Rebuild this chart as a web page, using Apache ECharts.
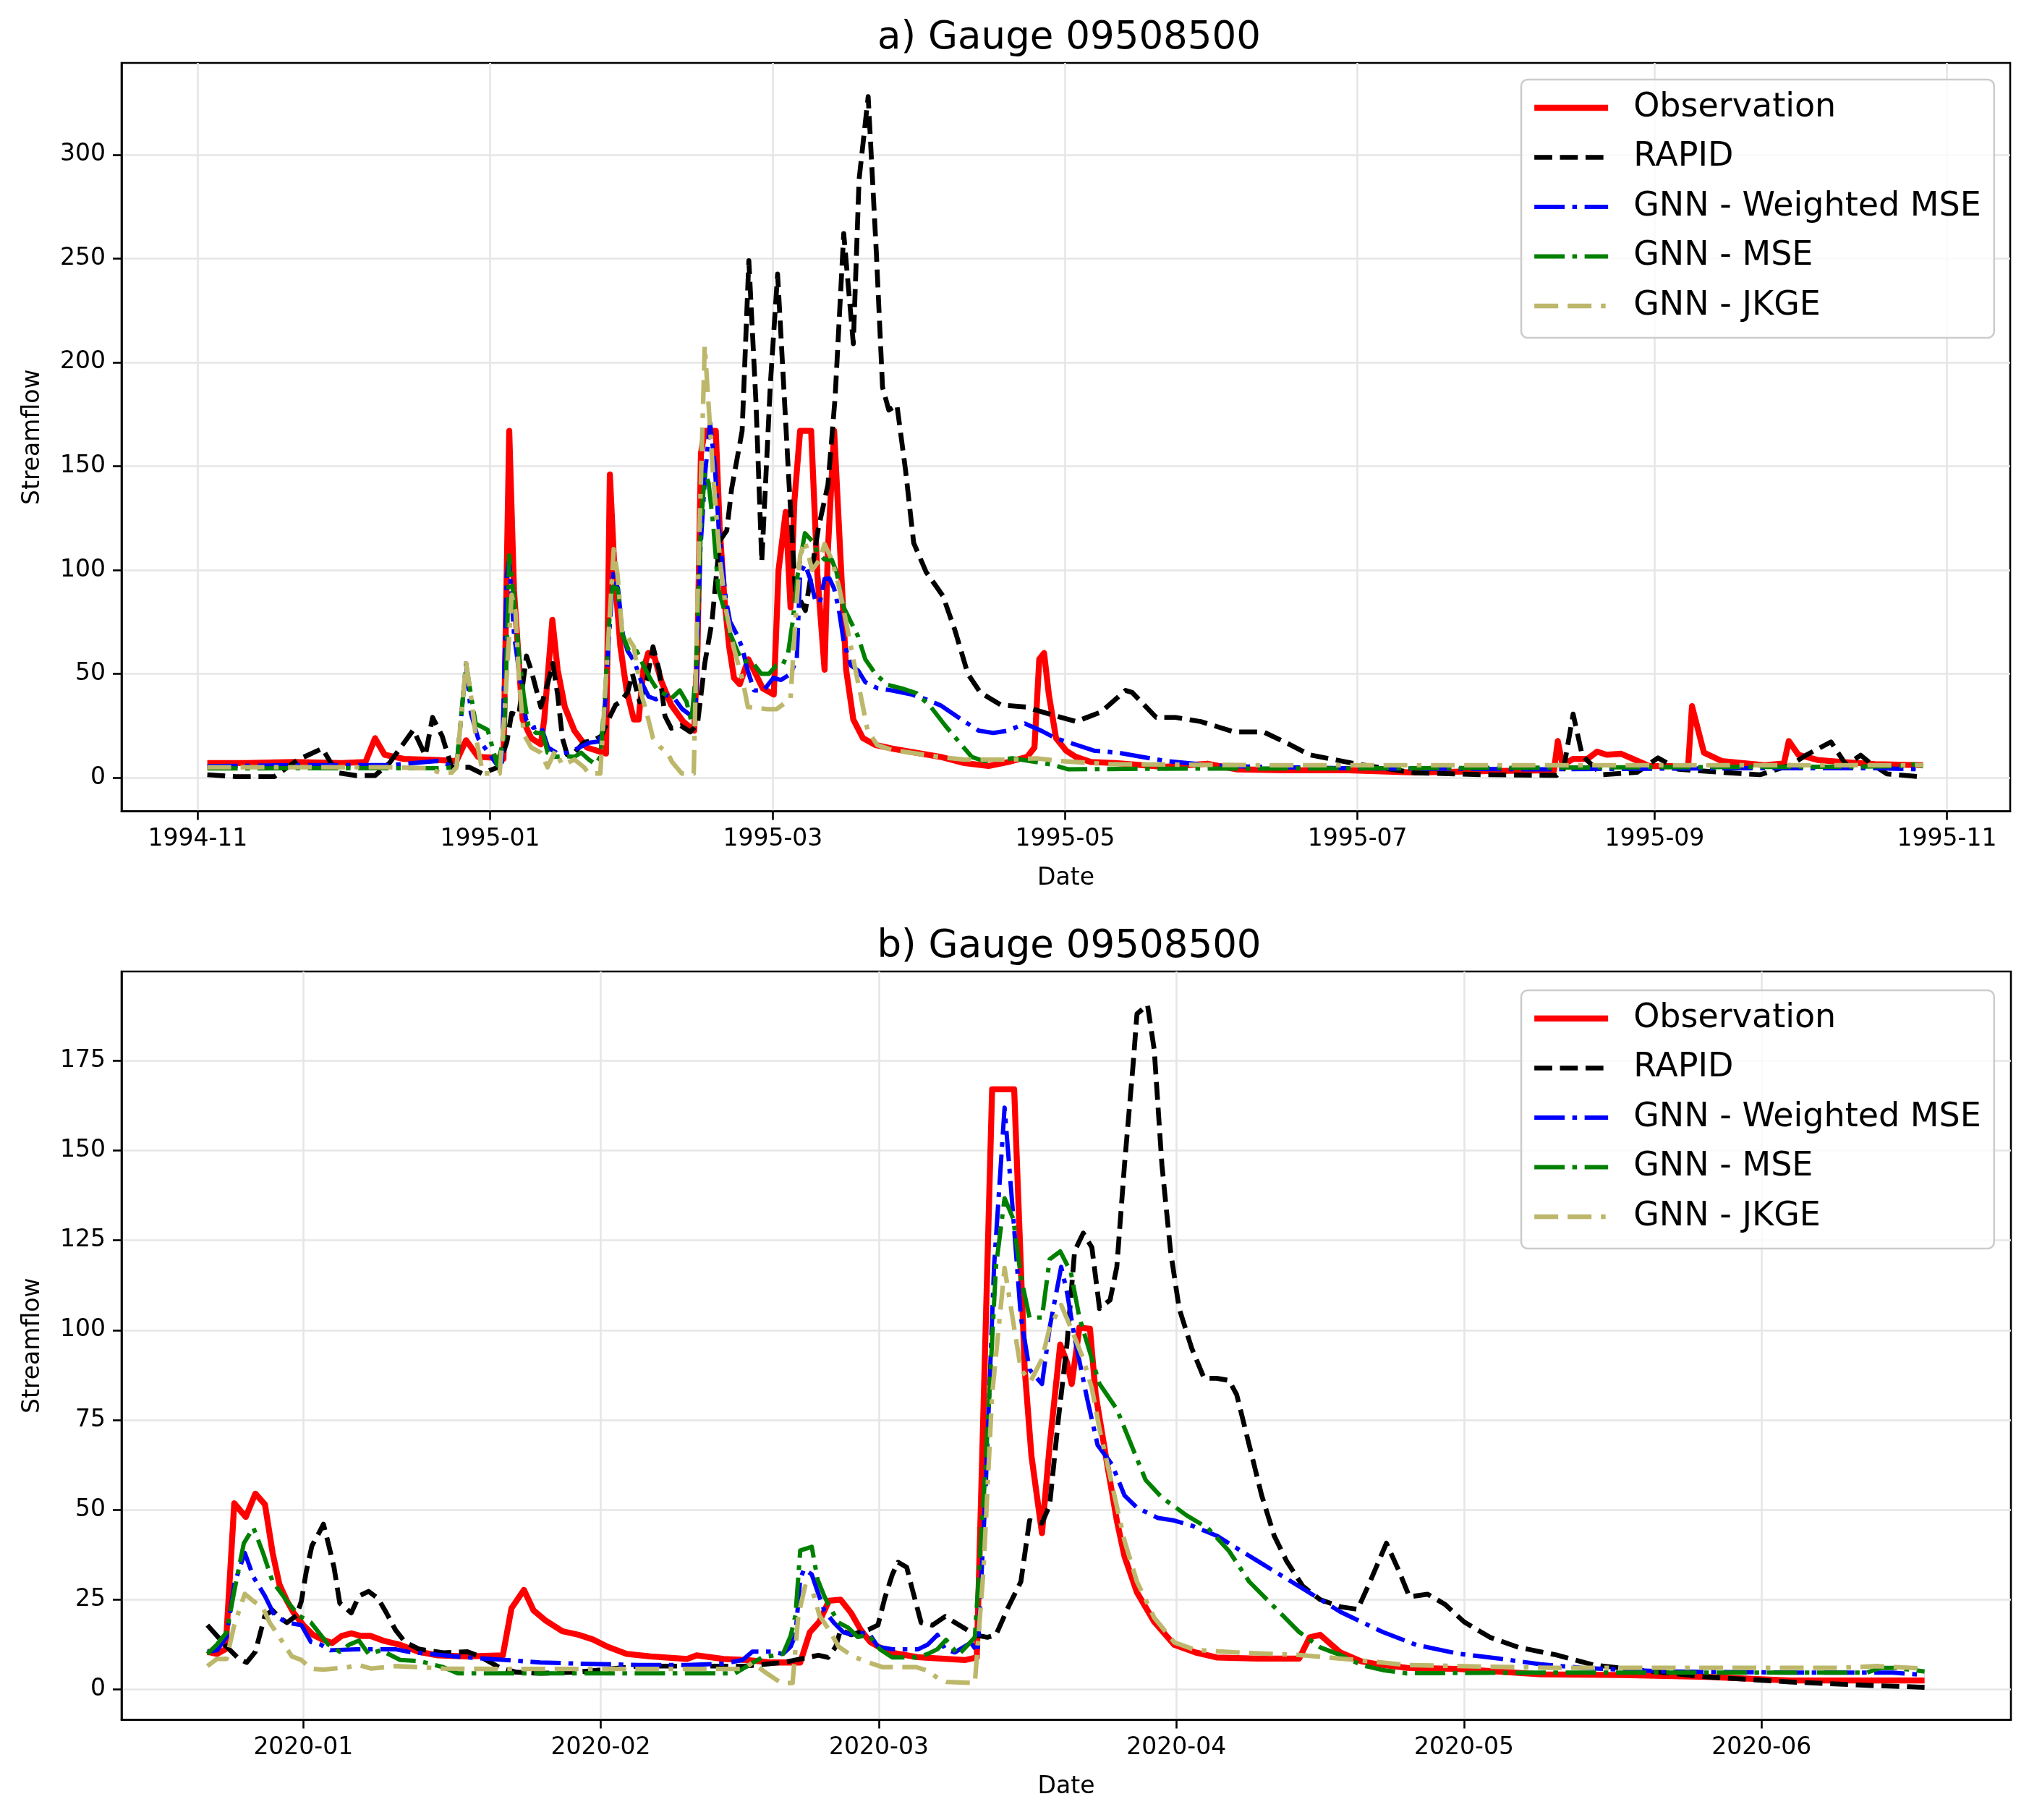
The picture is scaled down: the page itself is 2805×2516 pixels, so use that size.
<!DOCTYPE html>
<html>
<head>
<meta charset="utf-8">
<title>Gauge 09508500</title>
<script src="https://cdn.jsdelivr.net/npm/echarts@6.0.0/dist/echarts.min.js"></script>
<style>
  html, body { margin: 0; padding: 0; background: #ffffff; }
  #chart { width: 2805px; height: 2516px; }
</style>
</head>
<body>
<div id="chart"></div>
<script>
// panel a: days counted from 1994-11-01, panel b: days counted from 2020-01-01
const baseA = Date.UTC(1994, 10, 1)
const baseB = Date.UTC(2020, 0, 1)

const seriesNames = ['Observation', 'RAPID', 'GNN - Weighted MSE', 'GNN - MSE', 'GNN - JKGE']

// ---- a) 1994-11 .. 1995-11 ----
const obsA = [[2,7],[10,7],[20,7.5],[30,7],[35,7.5],[37,19],[39,11],[43,9],[50,8.5],[54,8],[56,18],[58.5,10],[62.5,9.5],[63.8,9],[65,167],[66,90],[66.8,63],[67.8,28],[69.6,19],[71.6,16],[72.3,28],[74,76],[75.1,52],[76.6,34],[78.6,22.6],[81.2,14.5],[85.2,11.6],[86,146],[87,98],[88.2,63],[89.5,42],[91,28],[92,28],[93,52],[94,60],[95.3,58],[96.8,46],[98.8,35],[101.3,27],[103.6,22.6],[104.3,63],[105,156],[105.8,167],[108.1,167],[108.9,121],[109.9,86],[110.9,63],[111.9,48],[113.1,45],[114.9,57],[116.4,50],[117.9,43],[120.2,40],[121.2,100],[122.7,128],[123.7,82],[124.5,133],[125.7,167],[128,167],[129.3,98],[130.8,52],[131.5,110],[132.8,167],[134.3,98],[135.3,52],[136.8,28],[138.8,19],[141.4,15.7],[144.9,14],[149.9,12],[155,10],[160,7],[165,5.6],[169.1,7.5],[173.1,10],[174.6,14.5],[175.6,57],[176.6,60],[177.6,40],[179.1,19],[181.2,13],[183.2,10],[186.4,7.5],[191.5,7],[201.6,5.2],[210.7,6.7],[216.7,4],[226.8,3.5],[240,3.5],[254,2.5],[270,3.2],[283,3.5],[283.8,17.6],[284.8,6],[287,9],[290,9],[292,12.5],[294,11],[297,11.5],[300,8.5],[303,5.5],[311,5.5],[311.8,34.4],[314.3,12],[318,8],[327,6],[331,6.8],[332,17.6],[334,11],[338,8.5],[343,7.5],[350,6.5],[360,6]]
const rapidA = [[2,1.4],[8,0.5],[16,0.5],[21,8.7],[26,14],[29,2.4],[33,1],[37,1],[40,7],[45,23],[47.5,10.6],[49,29],[51,20],[53,5],[56.7,5],[59.3,2],[62.7,5],[64.5,17],[65.5,31],[67,30],[68.6,58.6],[69.6,51.6],[71.6,34],[73.1,46],[74.1,55],[75.1,40],[76.1,19],[77.1,11],[78.6,12],[80.6,17],[82.7,18],[84.2,20],[85.7,28],[87.2,35],[88.2,36.5],[89.7,41],[90.7,50],[92.2,36.5],[93.7,47],[95,63],[96.3,51.6],[97.5,29.6],[98.8,23.8],[100.8,25],[102.8,22],[104.3,26],[105.8,55],[107.3,75],[108.9,114],[110.4,119],[111.4,139],[113.6,167],[115,249],[116.5,180],[117.7,104],[119.5,190],[121,242.5],[123.4,141],[124.7,90],[126.8,80.5],[129.5,120],[131.5,141],[133,183],[134.8,262],[136.8,209],[138,288],[139.9,328],[141.6,253],[142.9,188],[144.2,177],[145.9,179.5],[147.7,148],[149.4,113],[152,99],[155.5,87.5],[158,71],[160.7,50],[163.3,41],[167.6,35],[172.8,34],[178,30.4],[183.3,27],[188.5,31.6],[193.6,42],[195,41],[200,29],[204,29],[209.3,27],[216.3,22],[222.4,22],[227.5,16.4],[232,11],[242,6.5],[254,2.3],[268.7,1.4],[283.6,1.1],[285,4],[287,30.6],[288.9,10.7],[293,1.4],[300.4,2.6],[304.7,9.5],[309,4],[317.5,2.6],[326,1.4],[332.4,6],[335.6,10.8],[340.8,17.2],[344,6],[347,10.8],[349,7],[352.5,1.8],[360,0.3]]
const wmseA = [[2,5.5],[20,6],[40,6],[50,8],[54,5],[55,30],[56,55],[57,31],[58.5,19],[59.5,15.7],[62.5,6],[63.5,7.5],[64.5,98],[65,105],[66,69],[67,52],[68.5,28],[70,24],[71.6,25],[73.1,14.5],[75.1,11.6],[77.6,12],[79.6,14.5],[81.7,16.8],[83.7,17.4],[84.7,25],[85.7,63],[86.7,98],[87.7,91],[88.7,69],[89.7,61],[91.1,56],[92.6,46],[94.1,39],[95.6,37.7],[97.6,40],[99.6,37.7],[101.1,33],[103.1,29.6],[103.9,34],[104.9,110],[105.9,147],[106.9,171],[107.9,150],[108.7,121],[110.2,86],[111.1,75],[112.7,68],[113.7,62],[114.7,52],[116.1,42],[118.1,42],[120.1,48],[121.7,47],[123.7,50],[125,57],[125.7,98],[126.7,102.7],[127.8,95.7],[128.8,86],[129.8,84],[130.8,95.7],[131.8,96],[132.8,91],[133.8,80.6],[134.8,65.5],[136.3,54],[137.8,51.6],[139.3,46],[141.9,43],[144.9,42],[149,40],[152,37.7],[155,34.8],[160,27],[163,22.6],[166,21.5],[169,22.6],[172.6,26],[176,22.6],[179,19],[182,16.8],[187,13],[192,12],[202,8],[212,5.8],[222,5.2],[240,4.5],[280,4],[320,4.5],[350,4.5],[360,4]]
const mseA = [[2,4.4],[20,4.5],[40,4.5],[50,4.5],[54,5],[55,30],[56,55],[57,40],[58,26],[60.5,23],[62.5,6],[64,20],[65,107],[66,86],[67,60],[68,40],[69,25],[70.6,21.5],[72,21.5],[73,12],[74.6,10],[76.6,10.4],[78.6,10],[80,12],[81.6,8.7],[83,6.4],[84,10],[85,40],[86,80],[86.6,92],[87.6,91],[88.6,69],[90,61],[91.6,61],[93,54],[94.6,47],[96,42],[97.6,40],[98.6,37.7],[100.6,42],[102,36.5],[103,27],[104,51.6],[105,121],[105.8,147],[106.6,142],[107.6,121],[108.6,91],[109.6,83],[111,70],[112.6,61],[113.6,56],[115.6,56],[117.6,50],[119.2,50],[120.7,54],[122,54],[123.2,60],[124.2,76],[125.2,98],[126.7,117.7],[128.2,114],[129.3,108.5],[130.8,105],[132.3,105],[133.3,99],[134.8,82],[136.3,75],[137.8,68],[139.3,57],[141.4,50],[143.9,44.7],[146.9,43],[150,40.6],[153,34],[156,25],[159,16.8],[161.5,10],[164,8],[170,9.3],[175,7.5],[178,6.4],[181.7,4],[200,4.3],[250,4.5],[300,5],[340,5.2],[355,5.5],[358,6.4],[360,5.5]]
const jkgeA = [[2,5],[20,5],[40,5],[48,4.5],[50.5,2.4],[53,2.4],[54,5],[55,30],[56,55],[57,40],[58,20],[59.5,2],[63,2],[64,30],[65.5,88],[66.3,80],[67,49],[68,21],[69.6,14.5],[71.6,12],[73,5],[74.6,13],[76.1,6],[78.6,8.7],[80.6,5],[81.6,2],[84,2],[85.6,63],[86.8,110],[87.6,98],[88.6,69],[89.6,68],[91,63],[92.6,40],[93.6,32],[95,19],[96.6,14.5],[98,12],[99,7.5],[101,2],[103.5,2],[104.3,86],[105.8,208],[107.6,144],[109,104],[110.3,80],[111.8,63],[113.8,46],[114.8,34],[116.8,33.6],[118.8,33],[120.8,33],[123.7,38],[124.7,75],[125.7,107],[126.7,114],[128.2,100],[129.8,105],[130.8,112.5],[132.3,105],[133.8,92],[135.3,75],[136.8,57],[138.3,40],[139.8,22.6],[141.8,15.7],[144.9,13.3],[149.9,11.6],[155,9.9],[160,8.7],[170,8.7],[175,9.3],[180,8],[190,6.5],[220,6],[280,6],[340,6],[360,6]]

// ---- b) 2019-12 .. 2020-06 ----
const obsB = [[-10,10.5],[-9,9.9],[-8.1,11.2],[-7.2,51.8],[-6,48],[-5,54.5],[-4,51.5],[-3.2,38],[-2.5,29.3],[-1.7,24.6],[-1,21.3],[0,17.9],[1,15.2],[2,13.9],[3,12.9],[4,14.9],[5,15.6],[6,14.9],[7,14.9],[8.3,13.6],[10,12.5],[12,10.5],[14,9.5],[17,9.2],[20.8,9.5],[21.7,22.6],[23,27.7],[24,22],[25.2,19.3],[27,16.2],[28.7,15.2],[30.2,13.9],[31.7,11.9],[33.7,9.9],[36.2,9.2],[40,8.5],[41,9.5],[43.8,8.5],[46.3,8.2],[48.8,7.5],[51.8,7.5],[52.8,15.9],[53.8,18.9],[54.8,24.7],[56,25],[57.1,21.3],[58.1,16.6],[59.1,13.2],[60.4,11.2],[61.4,10.2],[64,9],[69,8.2],[70.2,8.9],[71.8,167],[74.1,167],[75.2,89],[75.9,65],[77,43.5],[77.8,68],[78.9,96],[79.6,91],[80.1,85],[80.9,100.7],[82,100.4],[82.6,82],[83.9,61],[84.8,47],[85.6,37],[86.9,27],[88.7,18.8],[90.8,12.4],[93,10.3],[95.2,8.9],[99.5,8.6],[103.8,8.6],[104.9,14.5],[106,15.2],[108.1,10.3],[110.3,7.8],[112.5,6.8],[115,6],[120.3,5.7],[129,4.2],[137.6,4],[146.3,3.5],[155,2.5],[169,2.5]]
const rapidB = [[-10,17.9],[-8,11.9],[-6.7,8.5],[-5.9,7.5],[-5,10.5],[-4,20.6],[-3.2,22],[-2.5,20],[-1.7,18.6],[-0.7,20.6],[-0.2,24.6],[0.3,32.7],[0.9,40],[1.6,43.4],[2.1,46],[2.6,40.7],[3.2,34],[3.8,24],[5,21.3],[5.8,26],[6.8,27.3],[7.8,25.3],[8.6,21.6],[9.6,16.6],[10.6,13.2],[12.1,11.2],[14.6,10.2],[17.1,10.5],[18.4,9.2],[20.4,6.2],[22.2,4.8],[24.7,4.5],[28.5,4.8],[35,6.5],[46,6.5],[50,7.5],[53.7,9.5],[54.7,8.9],[55.5,11.9],[56,16.6],[57.1,15.2],[58.9,16.6],[59.9,17.9],[60.6,25.3],[61.4,32],[62,35.4],[62.9,34],[63.4,28.7],[64.4,18.6],[65.6,17.9],[66.9,20.3],[68.7,17.4],[70,15.2],[71.3,14.5],[72.2,15.2],[73.5,23],[74.8,30],[75.7,47],[77,46.3],[77.8,51.3],[78.7,75],[79.6,96],[80.4,122],[81.3,127],[82.2,123],[83,106],[84.1,108.4],[84.8,117.6],[85.6,146],[86.5,174],[86.9,188],[88,190.5],[88.7,178],[89.5,146],[90.4,122],[91.3,106],[92.6,95],[93.9,86.6],[95.2,86.6],[96.5,86],[97.3,82],[98.6,68],[99.9,54],[101.2,42.8],[102.5,35.7],[104.2,28.7],[106,25],[108.1,23],[109.9,22.3],[111.2,30],[112.9,40.7],[114.2,33],[115.3,25.8],[117.2,26.5],[119,23.7],[121,18.8],[123.7,14.5],[126.7,11.7],[130.6,9.6],[134.5,6.8],[139.3,5.4],[146.2,3.5],[154.9,2.1],[163.5,1.1],[169,0.6]]
const wmseB = [[-10,10.5],[-9,10.9],[-8,14.6],[-7.2,29.3],[-6.1,38],[-5.2,31.3],[-4,26],[-3,20.6],[-1.7,18.6],[-0.2,17.9],[0.8,13.2],[1.8,12.5],[2.8,10.9],[5.6,11.2],[9.6,11.2],[10.9,10.5],[14.6,9.5],[17.1,8.9],[21,8.2],[24.7,7.5],[28.5,7.2],[35,6.8],[40,6.8],[43.8,7.2],[45.8,8.2],[46.8,10.5],[48.8,10.5],[50,9.9],[50.8,11.9],[51.3,15.2],[51.8,30.7],[52.2,33.5],[53,32],[53.6,27.3],[54.3,22],[55.3,18.6],[56.3,15.9],[57.3,15.2],[58.9,15.9],[59.9,11.9],[61.4,11.2],[64.1,11.2],[65.1,12.5],[66.1,15.2],[66.9,11.2],[67.9,10.3],[69.6,13],[70.3,10.3],[71.1,54],[72,117.6],[73.1,161.9],[74,131.7],[74.8,103.5],[75.7,89],[77,85],[77.8,100.7],[79,117.6],[79.6,110.6],[80.4,97.9],[81.7,81],[82.8,68],[84.3,62.6],[85.6,54],[86.9,50.6],[89.1,47.7],[90.8,47],[92.6,45.6],[95.2,42.8],[97.3,39.3],[99.5,35.7],[103.8,28.7],[108.1,21.6],[112.5,16],[116,12.4],[120.3,10],[124.6,8.6],[129,7],[133.3,6],[142,5],[155,4.7],[165.7,4.7],[169,4]]
const mseB = [[-10,9.9],[-9,12.5],[-8,15.9],[-7.2,27.3],[-6.2,40.7],[-5.2,45],[-4.2,38],[-3.2,30],[-1.7,24.6],[-0.5,20.6],[0.8,18.6],[1.6,15.9],[2.6,12.5],[3.8,10.5],[4.8,12.5],[5.8,13.6],[6.8,9.9],[8.1,10.9],[10.1,8.2],[12.1,7.9],[14.6,6.2],[16.1,4.5],[30,4.5],[45,4.5],[46.3,6.5],[47.8,8.9],[50,9.9],[50.8,14.9],[51.3,20.6],[51.8,38.7],[53,39.7],[53.6,30.7],[54.3,26],[54.8,23.3],[55.8,18.6],[56.8,17.2],[57.8,14.6],[58.9,15.2],[60.1,11.2],[61.4,8.9],[63.9,8.9],[65.1,9.9],[66.1,11.2],[67,13.8],[68.3,9.6],[70,14.5],[71.1,61],[72.2,117.6],[73.1,136.7],[74,131],[74.8,114.8],[75.7,103.5],[77,103.5],[77.8,119.7],[78.9,121.9],[80,116.2],[80.9,103.5],[82.2,92],[83,85],[84.8,78],[86.5,66.8],[87.8,58.3],[89.5,53.4],[92.1,48.4],[94.3,44.9],[96.5,38.5],[98.6,30],[101.2,23],[103.8,16],[106,11.7],[108.1,9.6],[110.3,6.8],[112.5,5.4],[115,4.5],[130,4.7],[150,4.7],[163,4.7],[164.4,6],[166,6],[169,5]]
const jkgeB = [[-10,6.5],[-9,8.5],[-8,8.5],[-7.2,17.9],[-6.1,26.6],[-5.2,24.6],[-4.2,22.6],[-3.5,18.6],[-2.5,14.6],[-1.2,9.2],[-0.2,8.2],[0.8,5.8],[2.1,5.5],[4.6,6.2],[5.8,6.8],[7.1,5.8],[9.6,6.5],[12.1,6.2],[14.6,5.8],[20,5.7],[46,5.7],[46.8,7.5],[48.3,4.5],[49.8,1.8],[51,1.8],[51.6,20.6],[52.3,28.7],[53.1,27.3],[53.8,20.6],[54.8,16.6],[55.8,11.9],[57.3,9.2],[58.9,7.5],[60.4,6.2],[63.9,6.2],[65.1,5.2],[66.1,3.2],[67.1,2.1],[70,1.8],[70.9,33],[71.8,82],[73.1,117.3],[74.8,89],[75.8,85.7],[77,92],[77.8,100.7],[79,107],[80,100.7],[81.3,92],[82.2,83.8],[83,72.4],[84.3,57],[85.6,41.4],[86.9,30],[88.7,20],[90.8,13.1],[93,11],[97.3,10.3],[103.8,9.6],[108.1,8.6],[112.5,7.5],[115,6.8],[130,6],[160,6],[164,6.5],[166,6.2],[169,5.8]]

// tick labels
const xTicksA = ['1994-11', '1995-01', '1995-03', '1995-05', '1995-07', '1995-09', '1995-11']
const xTicksB = ['2020-01', '2020-02', '2020-03', '2020-04', '2020-05', '2020-06']
const yTicksA = [0, 50, 100, 150, 200, 250, 300]
const yTicksB = [0, 25, 50, 75, 100, 125, 150, 175]

const DAY = 86400000
const FONT = 'DejaVu Sans'

// ms timestamp of 'YYYY-MM'
const monthStart = s => Date.UTC(+s.slice(0, 4), +s.slice(5, 7) - 1, 1)
const toPoints = (base, arr) => arr.map(p => [base + p[0] * DAY, p[1]])
const fmtMonth = v => {
  const d = new Date(v)
  return d.getUTCFullYear() + '-' + String(d.getUTCMonth() + 1).padStart(2, '0')
}

// line look of each series (matplotlib lw 2 at 240 dpi ~ 6.7px)
const styles = [
  { color: '#ff0000', width: 8.3, type: 'solid' },
  { color: '#000000', width: 6.7, type: [24.7, 10.7] },
  { color: '#0000ff', width: 6, type: [42, 10.5, 6.5, 10.5] },
  { color: '#008000', width: 6, type: [42, 10.5, 6.5, 10.5] },
  { color: '#bdb76b', width: 6.3, type: [33, 13, 33, 13, 6.5, 13] }
]

const gridLine = { show: true, lineStyle: { color: '#e6e6e6', width: 2.6 } }
const axisBlack = { show: true, onZero: false, lineStyle: { color: '#000', width: 2.6 } }

const makeXAxis = (idx, min, max, ticks) => {
  const vals = ticks.map(monthStart)
  return {
    type: 'value', gridIndex: idx, min, max,
    name: 'Date', nameLocation: 'middle', nameGap: 76,
    nameTextStyle: { fontFamily: FONT, fontSize: 33, color: '#000' },
    axisLine: axisBlack,
    axisTick: { show: true, length: 12, customValues: vals, lineStyle: { color: '#000', width: 2.6 } },
    axisLabel: { customValues: vals, margin: 22, fontFamily: FONT, fontSize: 33, color: '#000', formatter: fmtMonth },
    splitLine: gridLine
  }
}

const makeYAxis = (idx, min, max, ticks) => ({
  type: 'value', gridIndex: idx, min, max,
  name: 'Streamflow', nameLocation: 'middle', nameGap: 106,
  nameTextStyle: { fontFamily: FONT, fontSize: 33, color: '#000' },
  axisLine: axisBlack,
  axisTick: { show: true, length: 12, customValues: ticks, lineStyle: { color: '#000', width: 2.6 } },
  axisLabel: { customValues: ticks, margin: 22, fontFamily: FONT, fontSize: 33, color: '#000' },
  splitLine: gridLine
})

// legend entries carry their own line look so the samples are as thick as the plotted lines
const legendItems = seriesNames.map((name, i) => ({
  name,
  itemStyle: { opacity: 0 },
  lineStyle: { color: styles[i].color, width: styles[i].width, type: styles[i].type, cap: 'butt', opacity: 1 }
}))

const makeLegend = top => ({
  orient: 'vertical', left: 2103, top,
  itemWidth: 102, itemHeight: 20, itemGap: 22.5,
  padding: [16, 18, 21, 14],
  backgroundColor: 'rgba(255,255,255,0.8)',
  borderColor: '#cccccc', borderWidth: 2.6, borderRadius: 9,
  itemStyle: { opacity: 0 },
  textStyle: { fontFamily: FONT, fontSize: 46, lineHeight: 46, color: '#000', padding: [0, 0, 0, 30] },
  selectedMode: false,
  data: legendItems
})

const panelData = [
  [obsA, rapidA, wmseA, mseA, jkgeA].map(a => toPoints(baseA, a)),
  [obsB, rapidB, wmseB, mseB, jkgeB].map(a => toPoints(baseB, a))
]

const series = []
panelData.forEach((list, p) => {
  list.forEach((data, i) => {
    series.push({
      name: seriesNames[i],
      type: 'line',
      xAxisIndex: p,
      yAxisIndex: p,
      data,
      symbol: 'none',
      showSymbol: false,
      lineStyle: { color: styles[i].color, width: styles[i].width, type: styles[i].type, cap: 'butt', join: 'round' },
      itemStyle: { color: styles[i].color },
      emphasis: { disabled: true },
      z: 2 + i
    })
  })
})

const chart = echarts.init(document.getElementById('chart'), null, { renderer: 'canvas' })

const option = {
  backgroundColor: '#ffffff',
  animation: false,
  title: [
    { text: 'a) Gauge 09508500', left: 1473, top: 22, textAlign: 'center',
      textStyle: { fontFamily: FONT, fontSize: 53, fontWeight: 'normal', color: '#000', lineHeight: 53 } },
    { text: 'b) Gauge 09508500', left: 1473, top: 1278, textAlign: 'center',
      textStyle: { fontFamily: FONT, fontSize: 53, fontWeight: 'normal', color: '#000', lineHeight: 53 } }
  ],
  grid: [
    { left: 168, top: 87, width: 2611, height: 1034.5, show: true, borderColor: '#000', borderWidth: 2.6, backgroundColor: 'transparent' },
    { left: 168, top: 1343, width: 2612, height: 1034.5, show: true, borderColor: '#000', borderWidth: 2.6, backgroundColor: 'transparent' }
  ],
  xAxis: [
    makeXAxis(0, baseA - 15.9 * DAY, baseA + 378.2 * DAY, xTicksA),
    makeXAxis(1, baseB - 18.95 * DAY, baseB + 178 * DAY, xTicksB)
  ],
  yAxis: [
    makeYAxis(0, -16.2, 344.2, yTicksA),
    makeYAxis(1, -8.45, 199.8, yTicksB)
  ],
  legend: [makeLegend(110), makeLegend(1369)],
  series
}

chart.setOption(option)
</script>
</body>
</html>
